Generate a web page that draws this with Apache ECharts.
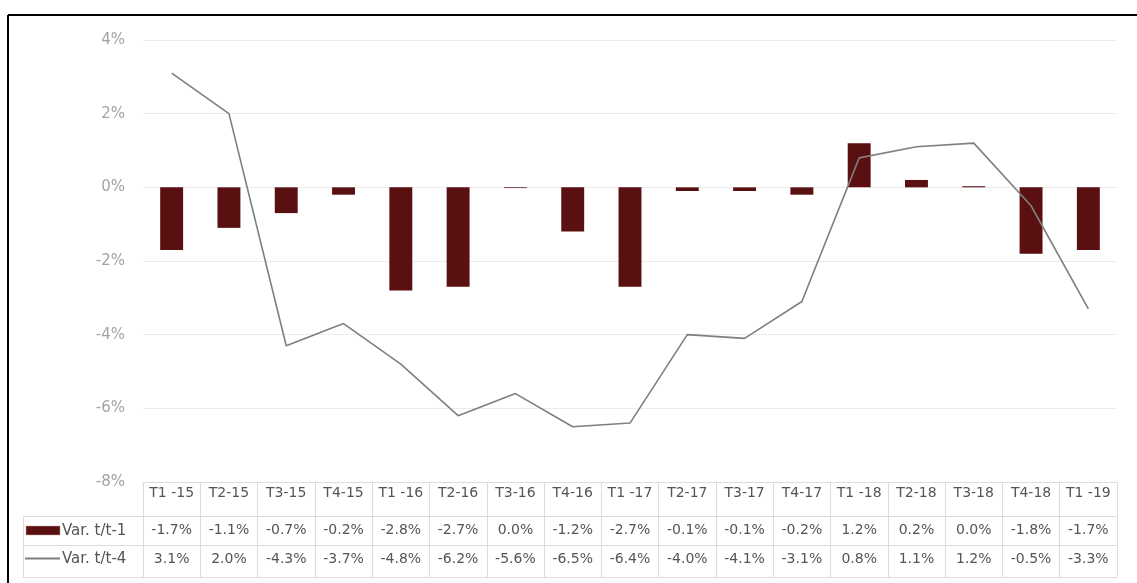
<!DOCTYPE html>
<html>
<head>
<meta charset="utf-8">
<script src="https://cdn.jsdelivr.net/npm/echarts@6/dist/echarts.min.js"></script>
<style>html,body{margin:0;padding:0;background:#fff;}#c{width:1137px;height:583px;}</style>
</head>
<body>
<div id="c"></div>
<script>
var categories = ["T1 -15","T2-15","T3-15","T4-15","T1 -16","T2-16","T3-16","T4-16","T1 -17","T2-17","T3-17","T4-17","T1 -18","T2-18","T3-18","T4-18","T1 -19"];
var varT1 = [-1.7,-1.1,-0.7,-0.2,-2.8,-2.7,-0.02,-1.2,-2.7,-0.1,-0.1,-0.2,1.2,0.2,0.03,-1.8,-1.7];
var varT4 = [3.1,2.0,-4.3,-3.7,-4.8,-6.2,-5.6,-6.5,-6.4,-4.0,-4.1,-3.1,0.8,1.1,1.2,-0.5,-3.3];
var seriesNames = ["Var. t/t-1","Var. t/t-4"];
var yTicks = {min:-8, max:4, interval:2};

function fmt(v){ var s=(Math.round(v*10)/10).toFixed(1); if(s==="-0.0") s="0.0"; return s+"%"; }

var FONT = "'DejaVu Sans', sans-serif";
var tableColor = "#dcdcdc";
var textColor = "#555";
var chart = echarts.init(document.getElementById('c'));
var gridLeft = 143, gridRight = 20, gridTop = 40, gridBottom = 101;

function tableAxis(offset, labels, margin, extra){
  var a = {
    type:'category', data:categories, position:'bottom', offset:offset, gridIndex:0,
    axisLine:{show:true, onZero:false, lineStyle:{color:tableColor, width:1}},
    axisTick:{show:false},
    axisLabel:{show:!!labels, interval:0, margin:margin, color:textColor, fontSize:14, fontFamily:FONT,
      formatter: labels ? function(v, i){ return labels[i]; } : undefined},
    splitLine:{show:false}
  };
  if(extra) for(var k in extra) a[k]=extra[k];
  return a;
}

var option = {
  animation:false,
  backgroundColor:'#fff',
  grid:{left:gridLeft, right:gridRight, top:gridTop, bottom:gridBottom, containLabel:false},
  xAxis:[
    tableAxis(0, categories, 4, {axisTick:{show:true, inside:false, interval:0, length:95, lineStyle:{color:tableColor}}}),
    tableAxis(34, varT1.map(fmt), 7),
    tableAxis(63, varT4.map(fmt), 7),
    tableAxis(95, null, 0)
  ],
  yAxis:{
    type:'value', min:yTicks.min, max:yTicks.max, interval:yTicks.interval,
    axisLine:{show:false}, axisTick:{show:false},
    axisLabel:{formatter:'{value}%', color:'#a3a3a3', fontSize:15, fontFamily:FONT, margin:18},
    splitLine:{lineStyle:{color:'#ececec', width:1}}
  },
  series:[
    {name:seriesNames[0], type:'bar', data:varT1, xAxisIndex:0, barWidth:'40%',
      itemStyle:{color:'#5a0f10'}},
    {name:seriesNames[1], type:'line', data:varT4, xAxisIndex:0, symbol:'none',
      lineStyle:{color:'#7f7f7f', width:1.6}, z:3}
  ],
  graphic:[
    {type:'line', shape:{x1:8,y1:15,x2:1137,y2:15}, style:{stroke:'#000', lineWidth:2}},
    {type:'line', shape:{x1:8,y1:15,x2:8,y2:583}, style:{stroke:'#000', lineWidth:2}},
    {type:'line', shape:{x1:23,y1:516.5,x2:143,y2:516.5}, style:{stroke:tableColor, lineWidth:1}},
    {type:'line', shape:{x1:23,y1:545.5,x2:143,y2:545.5}, style:{stroke:tableColor, lineWidth:1}},
    {type:'line', shape:{x1:23,y1:577.5,x2:143,y2:577.5}, style:{stroke:tableColor, lineWidth:1}},
    {type:'line', shape:{x1:23.5,y1:516,x2:23.5,y2:578}, style:{stroke:tableColor, lineWidth:1}},
    {type:'rect', shape:{x:26,y:526,width:34,height:9}, style:{fill:'#5a0f10', stroke:'#c9a0a0', lineWidth:0.5}},
    {type:'line', shape:{x1:25,y1:558.5,x2:60,y2:558.5}, style:{stroke:'#7f7f7f', lineWidth:2}},
    {type:'text', x:62, y:531, style:{text:seriesNames[0], fill:textColor, font:'15px '+FONT, textVerticalAlign:'middle', textBaseline:'middle'}},
    {type:'text', x:62, y:559, style:{text:seriesNames[1], fill:textColor, font:'15px '+FONT, textVerticalAlign:'middle', textBaseline:'middle'}}
  ]
};
chart.setOption(option);
</script>
</body>
</html>
